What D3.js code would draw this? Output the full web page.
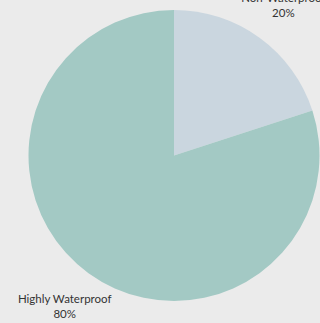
<!DOCTYPE html>
<html><head><meta charset="utf-8">
<script src="https://cdn.jsdelivr.net/npm/d3@7"></script>
<style>html,body{margin:0;padding:0;background:#ebebeb;overflow:hidden}</style>
</head><body>
<svg id="c" width="320" height="323"></svg>
<script>
const categories = ["Non-Waterproof", "Highly Waterproof"];
const values = [20, 80];
const colors = ["#cad6df", "#a3c9c4"];

const svg = d3.select("#c");
const cx = 174, cy = 155.5, R = 145.5, LR = 186;
const g = svg.append("g").attr("transform", `translate(${cx},${cy})`);
const data = categories.map((c, i) => ({name: c, value: values[i], color: colors[i]}));
const pie = d3.pie().sort(null).value(d => d.value);
const arc = d3.arc().innerRadius(0).outerRadius(R);
const labelArc = d3.arc().innerRadius(LR).outerRadius(LR);
const arcs = pie(data);
g.selectAll("path").data(arcs).join("path").attr("d", arc).attr("fill", d => d.data.color);
const total = d3.sum(values);
const lab = g.selectAll("text").data(arcs).join("text")
  .attr("transform", d => `translate(${labelArc.centroid(d)})`)
  .attr("text-anchor", "middle")
  .attr("font-family", "Lato, sans-serif").attr("font-size", 11.5).attr("fill", "#333");
lab.append("tspan").attr("x", 0).attr("y", -3).text(d => d.data.name);
lab.append("tspan").attr("x", 0).attr("y", 12).text(d => Math.round(d.data.value / total * 100) + "%");
</script>
</body></html>
